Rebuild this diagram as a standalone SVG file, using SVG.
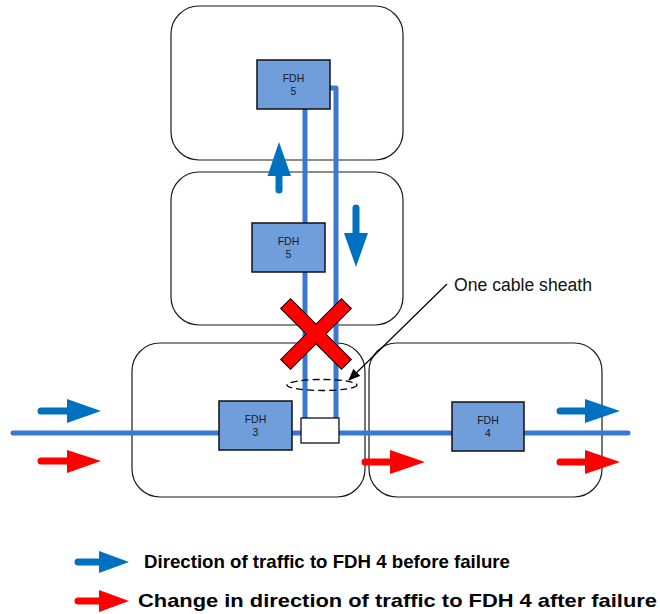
<svg xmlns="http://www.w3.org/2000/svg" width="660" height="614" viewBox="0 0 660 614">
<style>
.site{fill:none;stroke:#1a1a1a;stroke-width:1.2}
.fdh{fill:#6f9edb;stroke:#111;stroke-width:1.5}
.lbl{font-family:"Liberation Sans",Arial,sans-serif;font-size:10.5px;fill:#1a1a2a;text-anchor:middle}
.cable{fill:none;stroke:#3a78d2;stroke-width:5;stroke-linecap:round;stroke-linejoin:round}
.bshaft{stroke:#0070c0;stroke-width:7;stroke-linecap:round}
.rshaft{stroke:#ff0000;stroke-width:7;stroke-linecap:round}
.bhead{fill:#0070c0}
.rhead{fill:#ff0000}
.leg{font-family:"Liberation Sans",Arial,sans-serif;font-size:19px;font-weight:bold;fill:#000}
</style>
<defs>
<marker id="ah" markerWidth="12" markerHeight="10" refX="11" refY="5" orient="auto" markerUnits="userSpaceOnUse">
<path d="M0,0 L12,5 L0,10 z" fill="#000"/>
</marker>
</defs>
<g id="site-top"><rect class="site" x="171" y="6" width="232" height="154" rx="28"/></g>
<g id="site-middle"><rect class="site" x="171" y="172" width="232" height="153" rx="28"/></g>
<g id="site-bottom-left"><rect class="site" x="132" y="343" width="233" height="154" rx="28"/></g>
<g id="site-bottom-right"><rect class="site" x="369" y="343" width="233" height="154" rx="28"/></g>
<g id="connectors">
<line class="cable" x1="13" y1="433" x2="628" y2="433"/>
<line class="cable" x1="305" y1="105" x2="305" y2="420"/>
<path class="cable" d="M325,88 L336,88 L336,420"/>
<line x1="447" y1="284" x2="349" y2="380" stroke="#000" stroke-width="1.2" marker-end="url(#ah)"/>
<ellipse cx="322" cy="385" rx="35" ry="5.5" fill="none" stroke="#000" stroke-width="1.3" stroke-dasharray="7,4"/>
</g>
<g id="fdh5-top"><rect class="fdh" x="257" y="60" width="73" height="49"/><text class="lbl" x="293.5" y="82">FDH</text><text class="lbl" x="293.5" y="95">5</text></g>
<g id="fdh5-middle"><rect class="fdh" x="252" y="223" width="73" height="49"/><text class="lbl" x="288.5" y="245">FDH</text><text class="lbl" x="288.5" y="258">5</text></g>
<g id="fdh3"><rect class="fdh" x="219" y="401" width="73" height="49"/><text class="lbl" x="255.5" y="423">FDH</text><text class="lbl" x="255.5" y="436">3</text></g>
<g id="fdh4"><rect class="fdh" x="452" y="402" width="72" height="49"/><text class="lbl" x="488" y="424">FDH</text><text class="lbl" x="488" y="437">4</text></g>
<g id="splice"><rect x="301" y="418" width="38" height="25" fill="#fff" stroke="#111" stroke-width="1.3"/></g>
<g id="failure"><polygon transform="translate(316,334) rotate(45)" points="7,7 43,7 43,-7 7,-7 7,-43 -7,-43 -7,-7 -43,-7 -43,7 -7,7 -7,43 7,43" fill="#ff0000" stroke="#000" stroke-width="1"/></g>
<g id="flow-arrows">
<line class="bshaft" x1="41" y1="411" x2="70" y2="411"/><polygon class="bhead" points="67,399 101,411 67,423"/>
<line class="rshaft" x1="41" y1="461" x2="70" y2="461"/><polygon class="rhead" points="67,450 101,461 67,473"/>
<line class="bshaft" x1="560" y1="411" x2="588" y2="411"/><polygon class="bhead" points="585,399 620,411 585,423"/>
<line class="rshaft" x1="560" y1="462" x2="588" y2="462"/><polygon class="rhead" points="585,450 620,462 585,474"/>
<line class="rshaft" x1="365" y1="462" x2="393" y2="462"/><polygon class="rhead" points="390,450 425,462 390,474"/>
<line class="bshaft" x1="279" y1="190" x2="279" y2="173"/><polygon class="bhead" points="267.5,176 279,142 291,176"/>
<line class="bshaft" x1="356" y1="208" x2="356" y2="236"/><polygon class="bhead" points="344,233 356,267 368,233"/>
</g>
<g id="annotation"><text x="454" y="291" font-family="Liberation Sans,Arial,sans-serif" font-size="17.6" fill="#111">One cable sheath</text></g>
<g id="legend">
<line class="bshaft" x1="78" y1="562" x2="102" y2="562"/><polygon class="bhead" points="99,551 129,562 99,573"/>
<text class="leg" x="144" y="568" textLength="366" lengthAdjust="spacingAndGlyphs">Direction of traffic to FDH 4 before failure</text>
<line class="rshaft" x1="78" y1="601" x2="102" y2="601"/><polygon class="rhead" points="99,590 129,601 99,612"/>
<text class="leg" x="138" y="607" textLength="519" lengthAdjust="spacingAndGlyphs">Change in direction of traffic to FDH 4 after failure</text>
</g>
</svg>
